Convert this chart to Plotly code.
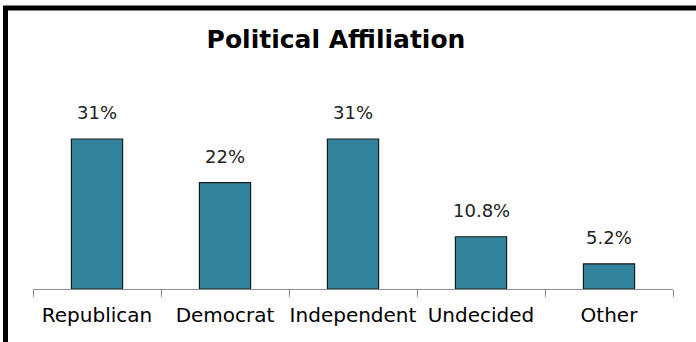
import plotly.graph_objects as go

categories = ["Republican", "Democrat", "Independent", "Undecided", "Other"]
shares = [31, 22, 31, 10.8, 5.2]
share_labels = ["31%", "22%", "31%", "10.8%", "5.2%"]

W, H = 696, 342
ML, MR, MT, MB = 33, 23, 50, 53
plot_w = W - ML - MR
plot_h = H - MT - MB
y_max = 49.4

FONT = "DejaVu Sans, Verdana, sans-serif"

fig = go.Figure(
    go.Bar(
        x=categories,
        y=shares,
        width=0.4,
        marker=dict(color="#31849B", line=dict(color="#1a1a1a", width=1.2)),
        hoverinfo="skip",
    )
)

for cat, val, lab in zip(categories, shares, share_labels):
    fig.add_annotation(
        x=cat, y=val, text=lab, showarrow=False,
        yanchor="bottom", yshift=14,
        font=dict(family=FONT, size=18, color="#222222"),
    )

# heavy frame around the chart (runs off the right and bottom edges)
def px_to_paper_x(px):
    return (px - ML) / plot_w

def px_to_paper_y(py):
    return (H - MB - py) / plot_h

fig.add_shape(
    type="rect", xref="paper", yref="paper",
    x0=px_to_paper_x(5.5), x1=px_to_paper_x(760),
    y0=px_to_paper_y(400), y1=px_to_paper_y(8),
    line=dict(color="black", width=5), fillcolor="rgba(0,0,0,0)",
)

fig.update_layout(
    width=W, height=H,
    margin=dict(l=ML, r=MR, t=MT, b=MB, pad=0, autoexpand=False),
    paper_bgcolor="white", plot_bgcolor="white",
    showlegend=False,
    title=dict(
        text="<b>Political Affiliation</b>",
        x=336 / W, xanchor="center", y=1 - 39 / H, yanchor="middle",
        font=dict(family=FONT, size=25, color="black"),
    ),
    xaxis=dict(
        type="category", automargin=False, tickangle=0,
        showline=True, linecolor="#8c8c8c", linewidth=1.3,
        ticks="outside", tickson="boundaries", ticklen=7, tickcolor="#8c8c8c", tickwidth=1.3,
        ticklabelstandoff=8,
        tickfont=dict(family=FONT, size=20, color="black"),
        showgrid=False, fixedrange=True,
    ),
    yaxis=dict(
        range=[0, y_max], visible=False, showgrid=False, zeroline=False, fixedrange=True,
    ),
)

fig.write_html("out.html")
